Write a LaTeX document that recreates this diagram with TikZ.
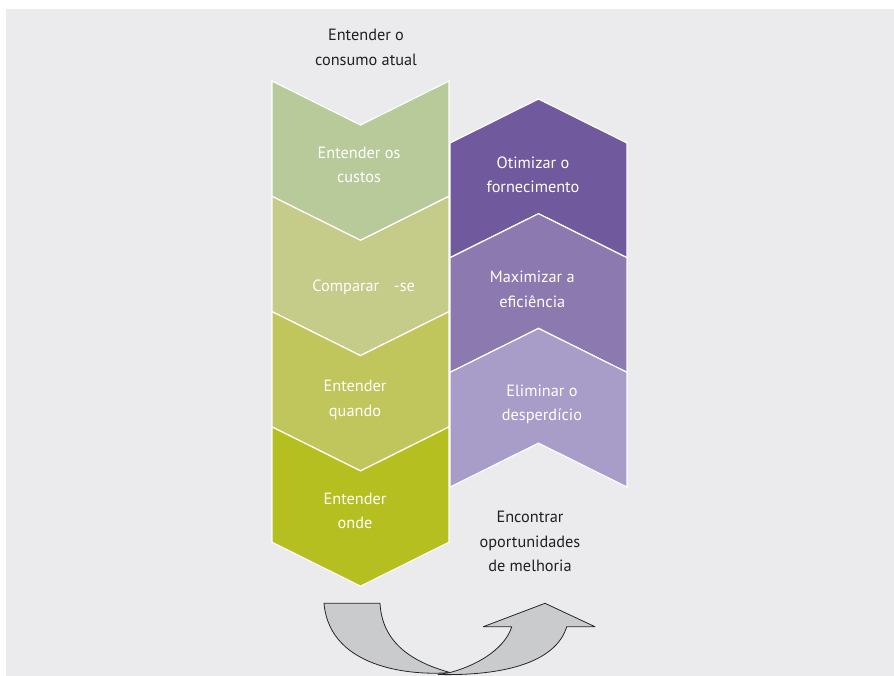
\documentclass[tikz,border=0pt]{standalone}
\usepackage{fontspec}
\setmainfont{PT Sans}
\definecolor{bgc}{HTML}{EBEBED}
\definecolor{gA}{HTML}{B9CA9A}
\definecolor{gB}{HTML}{C5CB88}
\definecolor{gC}{HTML}{C0C65C}
\definecolor{gD}{HTML}{B5C020}
\definecolor{pA}{HTML}{70599C}
\definecolor{pB}{HTML}{8B79B0}
\definecolor{pC}{HTML}{A89CC8}
\definecolor{arrowgray}{HTML}{CACBCD}
\definecolor{darktext}{HTML}{231F20}
\tikzset{
  chev/.style={draw=white, line width=1.2pt, line join=miter},
  lbl/.style={align=center, text=white, font=\fontsize{16.3}{24.5}\selectfont, inner sep=0pt},
  dlbl/.style={align=center, text=darktext, font=\fontsize{16.3}{24.5}\selectfont, inner sep=0pt},
  band/.style={fill=arrowgray, draw=black!85, line width=0.8pt, line join=round}
}
\begin{document}
\begin{tikzpicture}[x=1pt,y=-1pt]
\useasboundingbox (0,0) rectangle (894,676);
\fill[bgc] (6,9.5) rectangle (894,676);
% green downward chevrons
\foreach \t/\c in {81/gA,196.3/gB,311.6/gC,426.9/gD}{
  \filldraw[chev, fill=\c] (272,\t) -- (360.5,\t+44) -- (449,\t) -- (449,\t+115.3) -- (360.5,\t+159.3) -- (272,\t+115.3) -- cycle;
}
% purple upward chevrons
\foreach \t/\c in {99/pA,213.7/pB,328.4/pC}{
  \filldraw[chev, fill=\c] (538.5,\t) -- (627,\t+44) -- (627,\t+158.7) -- (538.5,\t+114.7) -- (450,\t+158.7) -- (450,\t+44) -- cycle;
}
% labels
\node[dlbl] (top) at (366,47.5) {Entender o\\consumo atual};
\node[lbl] (g1) at (359,165) {Entender os\\custos};
\node[lbl] (g2) at (363.7,287) {Comparar\hspace{0.9em}-se};
\node[lbl] (g3) at (355,400) {Entender\\quando};
\node[lbl] (g4) at (355,511) {Entender\\onde};
\node[lbl] (p1) at (533,175) {Otimizar o\\fornecimento};
\node[lbl] (p2) at (532.3,289.5) {Maximizar a\\eficiência};
\node[lbl] (p3) at (542,404.5) {Eliminar o\\desperdício};
\node[dlbl] (bot) at (530,541.5) {Encontrar\\oportunidades\\de melhoria};
% cycle arrow
\filldraw[band] (324,603.3) -- (380,603.3) .. controls (382,640) and (408,661) .. (450,672.5)
  .. controls (420,675.5) and (330,672) .. (324,603.3) -- cycle;
\filldraw[band] (450,672.5) .. controls (482,664) and (506,646) .. (511.7,626.7) -- (483.3,626.7) -- (545,603.3) -- (595,626.7) -- (566.7,626.7)
  .. controls (556,662) and (505,676) .. (438,674.5) -- cycle;
\end{tikzpicture}
\end{document}
